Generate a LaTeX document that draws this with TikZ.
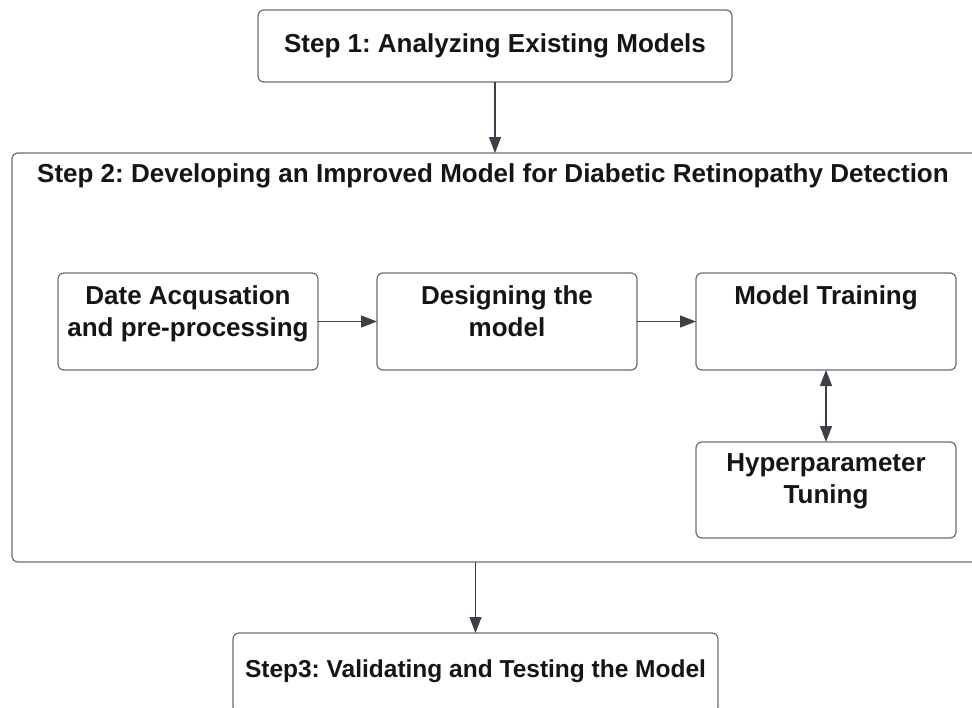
\documentclass[tikz,border=0pt]{standalone}
\usepackage{fontspec}
\setmainfont{Liberation Sans}
\frenchspacing
\usetikzlibrary{arrows.meta}
\definecolor{boxline}{HTML}{6E6E6E}
\definecolor{arrowline}{HTML}{3C4049}
\definecolor{inktext}{HTML}{151515}
\begin{document}
\begin{tikzpicture}[x=1pt,y=-1pt,
  box/.style={draw=boxline, line width=1.2pt, rounded corners=6pt, inner sep=0pt, outer sep=0pt},
  txt/.style={font=\bfseries\fontsize{26}{32}\selectfont, align=center, inner sep=0pt, text=inktext},
  flow/.style={draw=arrowline, line width=1.3pt, -{Triangle[length=16pt,width=12pt]}},
  twoway/.style={draw=arrowline, line width=1.3pt, {Triangle[length=16pt,width=12pt]}-{Triangle[length=16pt,width=12pt]}},
]
\useasboundingbox (0,0) rectangle (972,707);
\clip (0,0) rectangle (972,707);
\fill[white] (0,0) rectangle (972,707);

% outer stages
\node[box, minimum width=474pt, minimum height=72pt] (s1) at (495,46) {};
\node[box, minimum width=978pt, minimum height=409pt] (s2) at (501,357.5) {};
\node[box, minimum width=485pt, minimum height=80pt] (s3) at (475.5,673) {};

% inner steps of stage 2
\node[box, minimum width=260pt, minimum height=97pt] (d) at (188,321.5) {};
\node[box, minimum width=260pt, minimum height=97pt] (m) at (507,321.5) {};
\node[box, minimum width=260pt, minimum height=97pt] (t) at (826,321.5) {};
\node[box, minimum width=260pt, minimum height=96pt] (h) at (826,490) {};

% labels
\node[txt, anchor=base] (s1t) at (495,52) {Step 1: Analyzing Existing Models};
\node[txt, anchor=base west] (s2t) at (37,182) {Step 2: Developing an Improved Model for Diabetic Retinopathy Detection};
\node[txt, font=\bfseries\fontsize{24.5}{30}\selectfont, anchor=base] (s3t) at (475.5,677) {Step3: Validating and Testing the Model};
\node[txt, anchor=north] (dt) at ([yshift=-12pt]d.north) {Date Acqusation\\and pre-processing};
\node[txt, anchor=north] (mt) at ([yshift=-12pt]m.north) {Designing the\\model};
\node[txt, anchor=north] (tt) at ([yshift=-12pt]t.north) {Model Training};
\node[txt, anchor=north] (ht) at ([yshift=-11pt]h.north) {Hyperparameter\\Tuning};

% connectors
\draw[flow] (s1.south) -- (s1.south |- s2.north);
\draw[flow] (d.east) -- (m.west);
\draw[flow] (m.east) -- (t.west);
\draw[twoway] (t.south) -- (h.north);
\draw[flow] (s2.south -| s3.north) -- (s3.north);
\end{tikzpicture}
\end{document}
